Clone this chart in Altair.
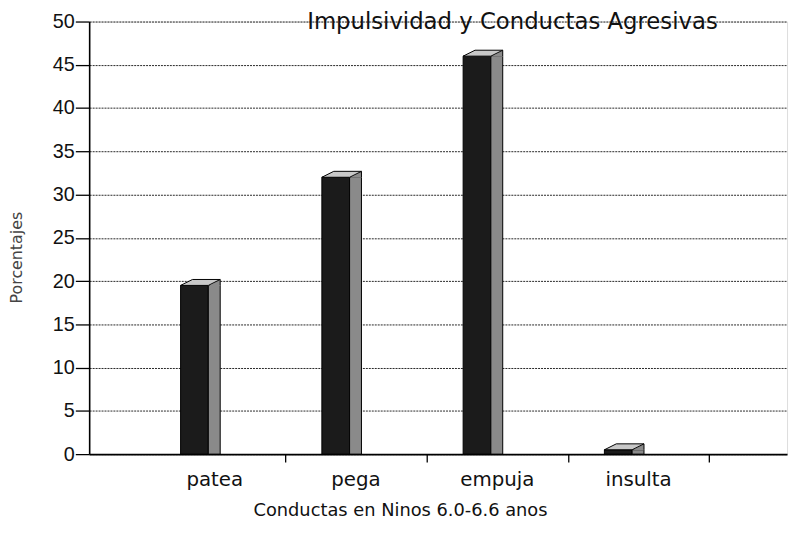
import altair as alt
import pandas as pd

categories = ["patea", "pega", "empuja", "insulta"]
values = [19.5, 32, 46, 0.5]
y_ticks = [0, 5, 10, 15, 20, 25, 30, 35, 40, 45, 50]
title_text = "Impulsividad y Conductas Agresivas"
x_title = "Conductas en Ninos 6.0-6.6 anos"
y_title = "Porcentajes"

df = pd.DataFrame({"cat": categories, "val": values})
FONT = "DejaVu Sans"
NUMFONT = "Liberation Sans"

x_enc = alt.X(
    "cat:N",
    sort=categories,
    scale=alt.Scale(domain=categories, paddingInner=0, paddingOuter=0.47, align=0.41),
    axis=alt.Axis(
        title=x_title, labelAngle=0, labelFontSize=20, labelColor="#111",
        labelFont=FONT, tickSize=8, tickColor="#000", tickWidth=1.3,
        tickOffset=72, labelOffset=-72, labelPadding=8,
        domainColor="#000", domainWidth=1.6,
        titleFont=FONT, titleFontSize=18, titleFontWeight="normal", titleColor="#111",
        titleX=314, titleY=57, titleBaseline="middle", titleAnchor="start", titleAlign="center",
    ),
)
y_enc = alt.Y(
    "val:Q",
    scale=alt.Scale(domain=[0, 50], nice=False),
    axis=alt.Axis(
        values=y_ticks, title=y_title, grid=True, gridDash=[2, 1], gridColor="#000",
        gridWidth=1, gridOpacity=0.85, labelFontSize=20, labelFont=NUMFONT, labelColor="#111",
        tickSize=14, tickColor="#000", tickWidth=1.3, labelPadding=1,
        domainColor="#000", domainWidth=1.6,
        titleFont=FONT, titleFontSize=16, titleFontWeight="normal", titleColor="#444",
        titleX=-73, titleY=238, titleBaseline="middle", titleAngle=270,
    ),
)

base = alt.Chart(df)

front = base.mark_bar(width=28, xOffset=-20, color="#1b1b1b", stroke="#000", strokeWidth=1).encode(
    x=x_enc, y=y_enc
)
side = base.mark_bar(width=12, xOffset=0, color="#8a8a8a", stroke="#000", strokeWidth=1).encode(
    x="cat:N", y="val:Q"
)
side_top = base.mark_point(
    shape="M -6 0.5 L 6 -6 L 6 0.5 Z", size=4, filled=True,
    fill="#8a8a8a", strokeWidth=0, opacity=1,
).encode(x="cat:N", y="val:Q")
side_edge = base.mark_point(
    shape="M 6 -6 L 6 0", size=4, filled=False,
    stroke="#000", strokeWidth=1, opacity=1,
).encode(x="cat:N", y="val:Q")
top = base.mark_point(
    shape="M -34 0 L -6 0 L 6 -6 L -22 -6 Z", size=4, filled=True,
    fill="#c8c8c8", stroke="#000", strokeWidth=1, opacity=1,
).encode(x="cat:N", y="val:Q")

title = alt.Chart(pd.DataFrame({"t": [title_text]})).mark_text(
    align="right", baseline="alphabetic", fontSize=23, font=FONT, color="#111"
).encode(text="t:N", x=alt.value(635), y=alt.value(8))

chart = alt.layer(front, side, side_top, side_edge, top, title).properties(
    width=705, height=437,
    autosize=alt.AutoSizeParams(type="none"),
    padding={"left": 82, "top": 11, "right": 4, "bottom": 76},
).configure_view(stroke="#000", strokeWidth=1.6).configure(background="white")

chart.save("out.html", embed_options={"renderer": "svg", "actions": False})
